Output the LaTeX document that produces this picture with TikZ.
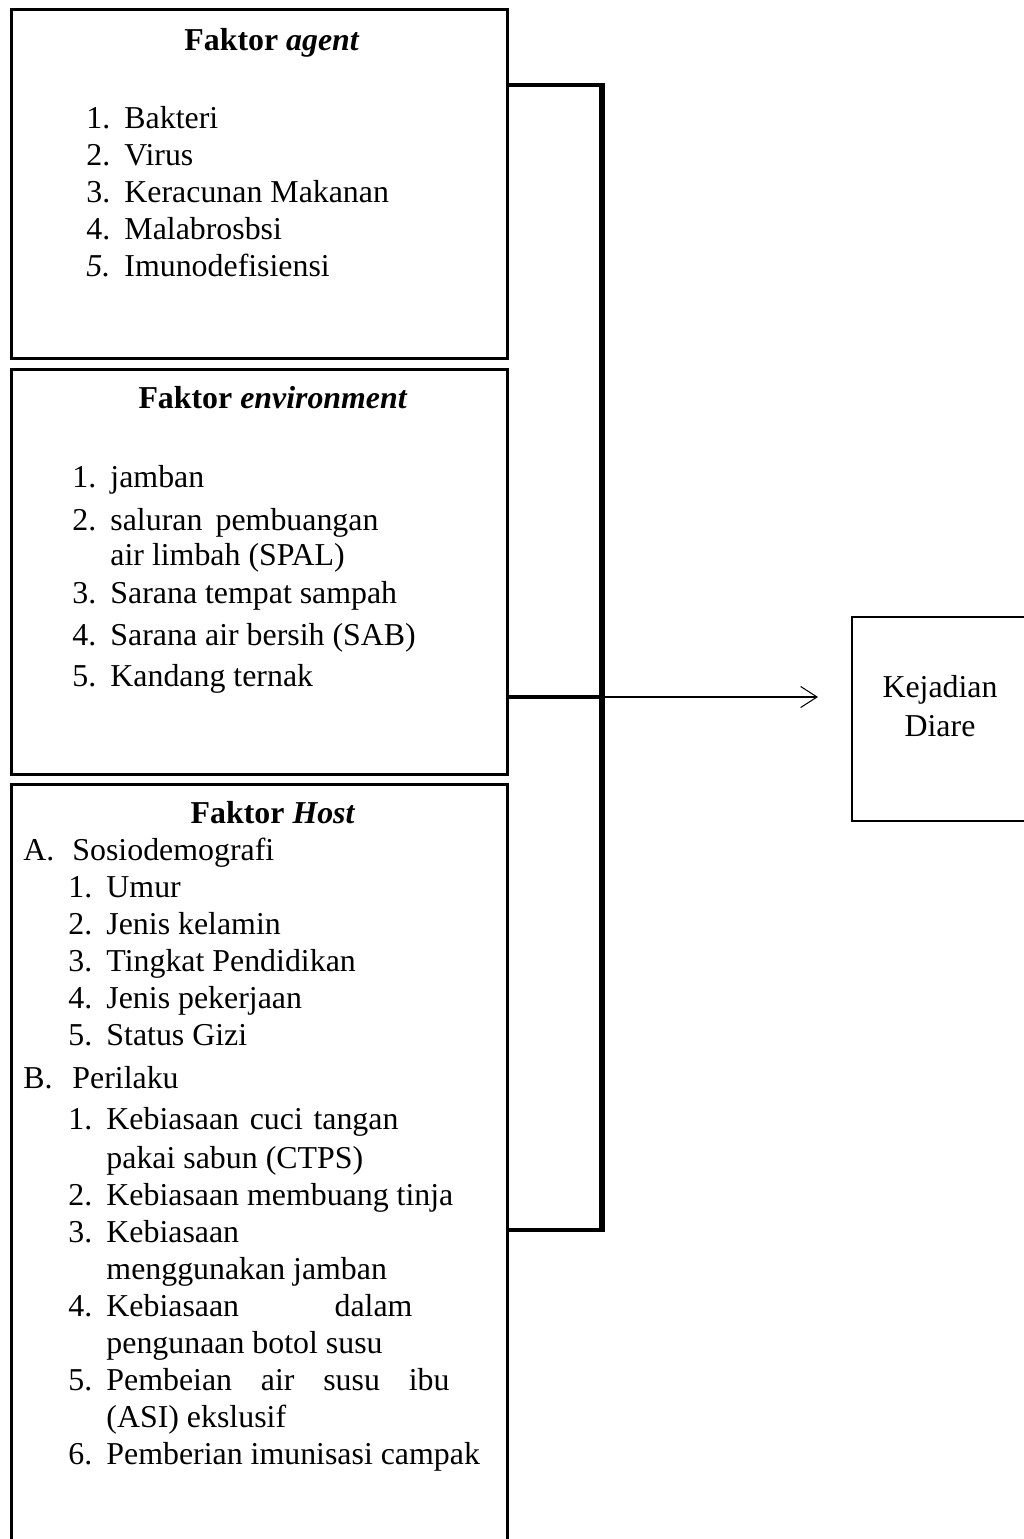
\documentclass[tikz,border=0pt]{standalone}
\usepackage{fontspec}
\setmainfont{Liberation Serif}
\usepackage{tikz}
\usetikzlibrary{arrows.meta, positioning}
\newcommand{\basefont}{\fontsize{13.6pt}{15.8pt}\selectfont}
\newcommand{\numbox}[1]{\makebox[0.57cm][l]{#1}}
\tikzset{
  factorbox/.style={rectangle, draw=black, line width=1.15pt,
    inner sep=0pt, anchor=north west, minimum width=7.44cm},
  outbox/.style={rectangle, draw=black, line width=1pt,
    inner sep=0pt, anchor=north west},
  heading/.style={anchor=base, inner sep=0pt, font=\basefont\bfseries},
  itemlist/.style={anchor=base west, inner sep=0pt, font=\basefont},
  arrow/.style={-{Straight Barb[length=7pt, width=9pt]}, line width=0.45pt},
  line/.style={line width=1.3pt},
  spine/.style={line width=2.6pt}
}

\begin{document}
\begin{tikzpicture}
  \useasboundingbox (0,0) rectangle (15.36,-23.085);

  % Boxes
  \node[factorbox, minimum height=5.235cm] (agent) at (0.15,-0.12) {};
  \node[factorbox, minimum height=6.075cm] (env) at (0.15,-5.52) {};
  \node[factorbox, minimum height=11.8cm] (host) at (0.15,-11.745) {};
  \node[outbox, minimum width=2.7cm, minimum height=3.06cm] (diare) at (12.765,-9.24) {};

  % Faktor agent
  \node[heading] (agenthead) at (4.08,-0.75) {Faktor \textit{agent}};
  \node[itemlist] (agentlist) at (1.29,-1.92) {%
    \begin{tabular}[t]{@{}l@{}}
    \numbox{1.}Bakteri\\
    \numbox{2.}Virus\\
    \numbox{3.}Keracunan Makanan\\
    \numbox{4.}Malabrosbsi\\
    \numbox{\textit{5.}}Imunodefisiensi
    \end{tabular}};

  % Faktor environment
  \node[heading] (envhead) at (4.095,-6.12) {Faktor \textit{environment}};
  \node[itemlist] (envlist) at (1.08,-7.305) {%
    \begin{tabular}[t]{@{}l@{}}
    \numbox{1.}jamban\\[2.6pt]
    \numbox{2.}\makebox[4.02cm][s]{saluran pembuangan}\\[-0.85pt]
    \hspace*{0.57cm}air limbah (SPAL)\\[0.4pt]
    \numbox{3.}Sarana tempat sampah\\[2.1pt]
    \numbox{4.}Sarana air bersih (SAB)\\[2.1pt]
    \numbox{5.}Kandang ternak
    \end{tabular}};

  % Faktor Host
  \node[heading] (hosthead) at (4.095,-12.345) {Faktor \textit{Host}};
  \node[itemlist] (hostlist) at (0.345,-12.9) {%
    \begin{tabular}[t]{@{}l@{}}
    \makebox[0.735cm][l]{A.}Sosiodemografi\\
    \hspace*{0.675cm}\numbox{1.}Umur\\
    \hspace*{0.675cm}\numbox{2.}Jenis kelamin\\
    \hspace*{0.675cm}\numbox{3.}Tingkat Pendidikan\\
    \hspace*{0.675cm}\numbox{4.}Jenis pekerjaan\\
    \hspace*{0.675cm}\numbox{5.}Status Gizi\\[2.6pt]
    \makebox[0.735cm][l]{B.}Perilaku\\[1.7pt]
    \hspace*{0.675cm}\numbox{1.}\makebox[4.38cm][s]{Kebiasaan cuci tangan}\\[0.85pt]
    \hspace*{1.245cm}pakai sabun (CTPS)\\
    \hspace*{0.675cm}\numbox{2.}Kebiasaan membuang tinja\\
    \hspace*{0.675cm}\numbox{3.}Kebiasaan\\
    \hspace*{1.245cm}menggunakan jamban\\
    \hspace*{0.675cm}\numbox{4.}\makebox[4.59cm][s]{Kebiasaan dalam}\\
    \hspace*{1.245cm}pengunaan botol susu\\
    \hspace*{0.675cm}\numbox{5.}\makebox[5.145cm][s]{Pembeian air susu ibu}\\
    \hspace*{1.245cm}(ASI) ekslusif\\
    \hspace*{0.675cm}\numbox{6.}Pemberian imunisasi campak
    \end{tabular}};

  % Kejadian Diare
  \node[itemlist, anchor=base] (diarelabel) at (14.1,-10.455)
    {\begin{tabular}[t]{@{}c@{}}Kejadian\\[1.2pt] Diare\end{tabular}};

  % Connectors
  \coordinate (brtop) at (9.03,-1.275);
  \coordinate (brmid) at (9.03,-10.455);
  \coordinate (brbot) at (9.03,-18.45);
  \coordinate (tip) at (12.27,-10.455);
  \draw[line] (agent.east |- brtop) -- (brtop);
  \draw[line] (env.east |- brmid) -- (brmid);
  \draw[line] (host.east |- brbot) -- (brbot);
  \draw[spine] ([yshift=0.65pt]brtop) -- ([yshift=-0.65pt]brbot);
  \draw[arrow] (brmid) -- (tip);
\end{tikzpicture}
\end{document}
